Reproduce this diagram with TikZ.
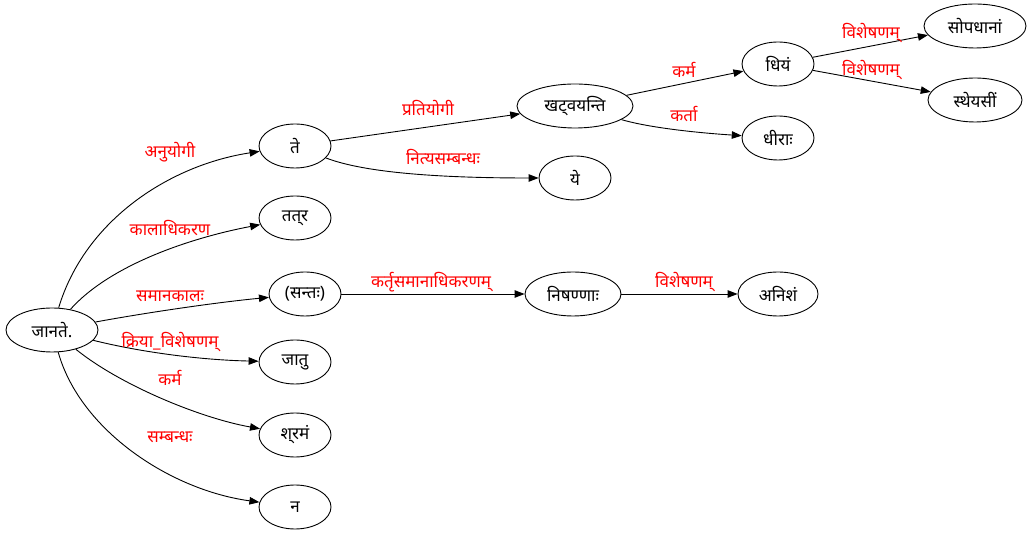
\documentclass[tikz,border=0pt]{standalone}
\usepackage{fontspec}
\setmainfont[Script=Devanagari]{Noto Sans}
\usetikzlibrary{shapes.geometric,arrows.meta}
\begin{document}
\begin{tikzpicture}[x=1pt,y=1pt,
  word/.style={draw,ellipse,line width=0.9pt,inner sep=0pt,minimum height=44pt,
    font=\fontsize{17}{19}\selectfont},
  lbl/.style={text=red,inner sep=1pt,font=\fontsize{17}{19}\selectfont},
  edge/.style={line width=0.9pt,-{Triangle[length=10pt,width=7.5pt]}}]
\useasboundingbox (0,0) rectangle (1032,537);
% words
\node[word,minimum width=92pt] (jan) at (52,207) {जानते.};
\node[word,minimum width=72pt] (te) at (295,391) {ते};
\node[word,minimum width=72pt] (tatra) at (295,319) {तत्‌र};
\node[word,minimum width=72pt] (santa) at (305,243) {(सन्तः)};
\node[word,minimum width=72pt] (jatu) at (295,175) {जातु};
\node[word,minimum width=72pt] (shrama) at (295,102) {श्‌रमं};
\node[word,minimum width=72pt] (na) at (295,30) {न};
\node[word,minimum width=116pt] (khat) at (575,431) {खट्‌वयन्ति};
\node[word,minimum width=72pt] (ye) at (575,359) {ये};
\node[word,minimum width=72pt] (dhiyam) at (778,473) {धियं};
\node[word,minimum width=72pt] (dhira) at (778,399) {धीराः};
\node[word,minimum width=102pt] (sopa) at (975,511) {सोपधानां};
\node[word,minimum width=94pt] (sthe) at (975,437) {स्थेयसीं};
\node[word,minimum width=96pt] (nish) at (573,243) {निषण्णाः};
\node[word,minimum width=80pt] (anish) at (778,243) {अनिशं};
% relations
\draw[edge] (jan) .. controls (85,317) and (170,372) .. (te);
\draw[edge] (jan) .. controls (110,272) and (190,299) .. (tatra);
\draw[edge] (jan) .. controls (150,225) and (220,235) .. (santa);
\draw[edge] (jan) .. controls (140,185) and (200,177) .. (jatu);
\draw[edge] (jan) .. controls (120,152) and (200,119) .. (shrama);
\draw[edge] (jan) .. controls (80,107) and (170,47) .. (na);
\draw[edge] (te) -- (khat);
\draw[edge] (te) .. controls (370,362) and (460,359) .. (ye);
\draw[edge] (khat) -- (dhiyam);
\draw[edge] (khat) .. controls (650,409) and (700,404) .. (dhira);
\draw[edge] (dhiyam) -- (sopa);
\draw[edge] (dhiyam) -- (sthe);
\draw[edge] (santa) -- (nish);
\draw[edge] (nish) -- (anish);
% relation labels
\node[lbl] (l1) at (170,385) {अनुयोगी};
\node[lbl] (l2) at (170,309) {कालाधिकरण};
\node[lbl] (l3) at (170,241) {समानकालः};
\node[lbl] (l4) at (170,195) {क्रिया\_विशेषणम्};
\node[lbl] (l5) at (170,159) {कर्म};
\node[lbl] (l6) at (170,100) {सम्बन्धः};
\node[lbl] (l7) at (428,429) {प्रतियोगी};
\node[lbl] (l8) at (443,380) {नित्यसम्बन्धः};
\node[lbl] (l9) at (684,467) {कर्म};
\node[lbl] (l10) at (684,423) {कर्ता};
\node[lbl] (l11) at (871,504) {विशेषणम्};
\node[lbl] (l12) at (871,467) {विशेषणम्};
\node[lbl] (l13) at (431,255) {कर्तृसमानाधिकरणम्};
\node[lbl] (l14) at (684,255) {विशेषणम्};
\end{tikzpicture}
\end{document}
